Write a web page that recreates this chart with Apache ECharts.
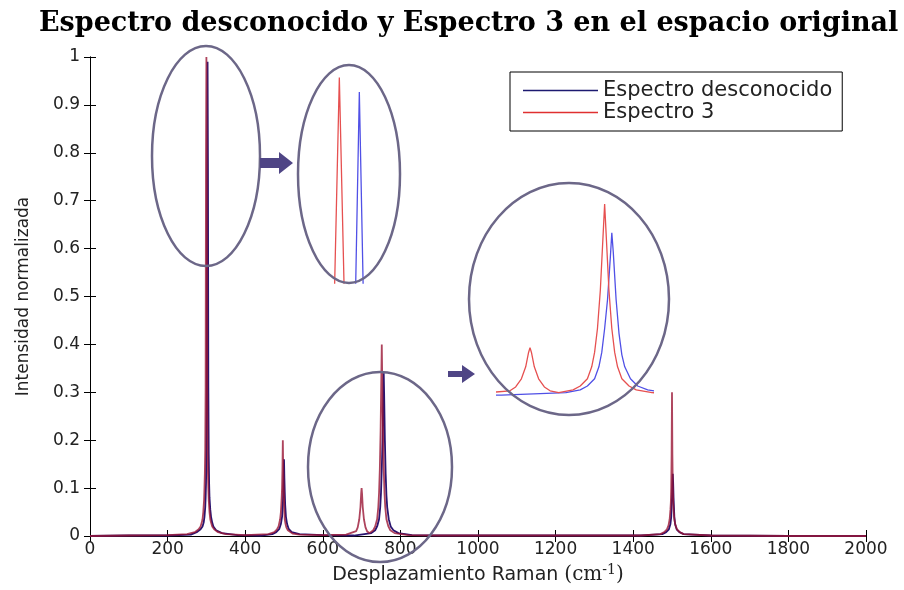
<!DOCTYPE html>
<html>
<head>
<meta charset="utf-8">
<script src="https://cdn.jsdelivr.net/npm/echarts@6/dist/echarts.min.js"></script>
<style>html,body{margin:0;padding:0;background:#fff}#c{width:904px;height:590px}</style>
</head>
<body>
<div id="c"></div>
<script>
// ---- Data ----
const titleText = 'Espectro desconocido y Espectro 3 en el espacio original';
const seriesNames = ['Espectro desconocido', 'Espectro 3'];
const xAxisTitle = 'Desplazamiento Raman';
const yAxisTitle = 'Intensidad normalizada';

// Espectro desconocido (blue)
const blueX = [0,100,200,260,275,285,290,293,295,297,298,299,300,301,302,303,304,305,306,307,308,310,312,315,318,325,340,380,
  440,470,480,488,492,495,497,498,499,500,501,502,503,505,508,512,520,540,600,
  680,725,735,740,745,748,750,752,754,756,757,758,760,762,764,766,770,775,782,795,830,
  900,1100,1300,1420,1475,1485,1492,1496,1498,1499,1500,1501,1502,1503,1504,1505,1506,1508,1512,1519,1530,1600,1800,2000];
const blueY = [0,0.001,0.001,0.003,0.008,0.014,0.02,0.028,0.04,0.06,0.08,0.11,0.16,0.3,0.75,0.99,0.76,0.31,0.17,0.11,0.08,0.055,0.04,0.028,0.02,0.012,0.006,0.002,
  0.001,0.004,0.008,0.015,0.025,0.04,0.065,0.09,0.12,0.16,0.12,0.09,0.065,0.04,0.025,0.015,0.008,0.004,0.002,
  0.001,0.006,0.012,0.02,0.035,0.06,0.09,0.14,0.2,0.29,0.34,0.3,0.2,0.13,0.085,0.06,0.035,0.02,0.012,0.006,0.002,
  0.001,0.001,0.001,0.001,0.004,0.008,0.014,0.025,0.04,0.06,0.08,0.11,0.13,0.11,0.08,0.06,0.04,0.025,0.014,0.008,0.004,0.001,0,0];

// Espectro 3 (red)
const redX = [0,100,200,250,270,280,285,288,290,292,294,295,296,297,298,299,300,301,302,303,304,305,306,308,310,312,315,320,330,350,400,
  460,475,482,486,490,492,494,495,496,497,498,499,500,501,502,504,506,510,514,522,540,600,
  660,686,690,694,697,699,700,701,703,706,710,714,720,730,735,740,743,745,747,749,751,752,753,755,757,759,761,764,769,774,785,820,
  900,1100,1300,1420,1470,1480,1487,1491,1494,1496,1497,1498,1499,1500,1501,1502,1503,1504,1506,1509,1513,1520,1530,1600,1800,2000];
const redY = [0,0.001,0.002,0.004,0.008,0.014,0.02,0.028,0.035,0.05,0.075,0.1,0.13,0.18,0.31,0.8,1.0,0.8,0.31,0.18,0.13,0.1,0.075,0.05,0.035,0.028,0.02,0.014,0.008,0.004,0.002,
  0.004,0.008,0.014,0.02,0.035,0.05,0.08,0.1,0.14,0.2,0.14,0.1,0.08,0.05,0.035,0.025,0.018,0.012,0.008,0.005,0.003,0.002,
  0.003,0.01,0.018,0.035,0.06,0.09,0.1,0.09,0.06,0.035,0.018,0.01,0.006,0.012,0.02,0.035,0.06,0.09,0.14,0.22,0.34,0.4,0.34,0.22,0.14,0.09,0.06,0.035,0.02,0.012,0.006,0.002,
  0.001,0.001,0.001,0.001,0.004,0.008,0.014,0.022,0.035,0.055,0.07,0.1,0.17,0.3,0.17,0.1,0.07,0.055,0.035,0.022,0.014,0.008,0.004,0.001,0,0];

const xTicks = {min: 0, max: 2000, interval: 200};
const yTicks = {min: 0, max: 1, interval: 0.1};
// zoomed views (inset ranges)
const zoom1Range = {xmin: 295.6, xmax: 304.6, ymin: 0.86, ymax: 1.003};
const zoom2Range = {xmin: 677, xmax: 785, ymin: -0.003, ymax: 0.402};

// ---- build ----
const pairs = (xs, ys) => xs.map((x, i) => [x, ys[i]]);
const blueData = pairs(blueX, blueY);
const redData = pairs(redX, redY);

const SANS = 'DejaVu Sans';
const chart = echarts.init(document.getElementById('c'), null, {renderer: 'canvas'});

const tickLabel = {fontFamily: SANS, fontSize: 17, color: '#222'};
const mainAxisCommon = {
  axisLine: {show: true, lineStyle: {color: '#000', width: 1}},
  axisTick: {show: true, inside: true, length: 6, lineStyle: {color: '#000'}},
  splitLine: {show: false}
};
const hiddenAxis = {show: false, splitLine: {show: false}};

chart.setOption({
  animation: false,
  backgroundColor: '#fff',
  title: {
    text: titleText, left: 34, top: 5,
    textStyle: {fontFamily: 'DejaVu Serif', fontWeight: 'bold', fontSize: 27, color: '#000'}
  },
  legend: {
    data: [
      {name: seriesNames[0], itemStyle: {color: '#1c1a70'}},
      {name: seriesNames[1], itemStyle: {color: '#e03030'}}
    ],
    orient: 'vertical', left: 510, top: 72,
    icon: 'rect', itemWidth: 75, itemHeight: 1.5, itemGap: 1,
    padding: [8, 10, 8, 13],
    backgroundColor: '#fff', borderColor: '#000', borderWidth: 1,
    textStyle: {fontFamily: SANS, fontSize: 21, color: '#222'}
  },
  grid: [
    {left: 90, right: 38, top: 57, bottom: 47},
    {left: 310, width: 60, top: 73, height: 210},
    {left: 497, width: 155, top: 203, height: 194}
  ],
  xAxis: [
    Object.assign({type: 'value', gridIndex: 0, position: 'bottom', min: xTicks.min, max: xTicks.max, interval: xTicks.interval,
      axisLabel: Object.assign({margin: 5, formatter: v => String(v)}, tickLabel),
      name: '{a|' + xAxisTitle + ' }{b|(cm}{s|-1}{b|)}', nameLocation: 'middle', nameGap: 27,
      nameTextStyle: {rich: {
        a: {fontFamily: SANS, fontSize: 19, color: '#222'},
        b: {fontFamily: 'DejaVu Serif', fontSize: 20, color: '#222'},
        s: {fontFamily: 'DejaVu Serif', fontSize: 14, color: '#222', padding: [0, 0, 10, 0]}
      }}
    }, mainAxisCommon),
    Object.assign({type: 'value', gridIndex: 0, position: 'top', min: xTicks.min, max: xTicks.max, interval: xTicks.interval,
      axisLabel: {show: false}}, mainAxisCommon),
    Object.assign({type: 'value', gridIndex: 1, min: zoom1Range.xmin, max: zoom1Range.xmax}, hiddenAxis),
    Object.assign({type: 'value', gridIndex: 2, min: zoom2Range.xmin, max: zoom2Range.xmax}, hiddenAxis)
  ],
  yAxis: [
    Object.assign({type: 'value', gridIndex: 0, position: 'left', min: yTicks.min, max: yTicks.max, interval: yTicks.interval,
      axisLabel: Object.assign({margin: 10, formatter: v => String(+v.toFixed(1))}, tickLabel),
      name: yAxisTitle, nameLocation: 'middle', nameGap: 58,
      nameTextStyle: {fontFamily: SANS, fontSize: 17, color: '#222'}
    }, mainAxisCommon),
    Object.assign({type: 'value', gridIndex: 0, position: 'right', min: yTicks.min, max: yTicks.max, interval: yTicks.interval,
      axisLabel: {show: false}}, mainAxisCommon),
    Object.assign({type: 'value', gridIndex: 1, min: zoom1Range.ymin, max: zoom1Range.ymax}, hiddenAxis),
    Object.assign({type: 'value', gridIndex: 2, min: zoom2Range.ymin, max: zoom2Range.ymax}, hiddenAxis)
  ],
  series: [
    {name: seriesNames[0], type: 'line', xAxisIndex: 0, yAxisIndex: 0, data: blueData, showSymbol: false,
      lineStyle: {color: '#2a1570', width: 1.8}, itemStyle: {color: '#1c1a70'}, z: 2},
    {name: seriesNames[1], type: 'line', xAxisIndex: 0, yAxisIndex: 0, data: redData, showSymbol: false,
      lineStyle: {color: '#9a1535', width: 1.8, opacity: 0.8}, itemStyle: {color: '#e03030'}, z: 3},
    {name: 'zoom1-blue', type: 'line', xAxisIndex: 2, yAxisIndex: 2, data: blueData, showSymbol: false,
      lineStyle: {color: '#5050e6', width: 1.3}, z: 2},
    {name: 'zoom1-red', type: 'line', xAxisIndex: 2, yAxisIndex: 2, data: redData, showSymbol: false,
      lineStyle: {color: '#e65050', width: 1.3}, z: 3},
    {name: 'zoom2-blue', type: 'line', xAxisIndex: 3, yAxisIndex: 3, data: blueData, showSymbol: false,
      lineStyle: {color: '#5050e6', width: 1.3}, z: 2},
    {name: 'zoom2-red', type: 'line', xAxisIndex: 3, yAxisIndex: 3, data: redData, showSymbol: false,
      lineStyle: {color: '#e65050', width: 1.3}, z: 3}
  ],
  graphic: [
    {type: 'ellipse', shape: {cx: 206, cy: 156, rx: 54, ry: 110}, style: {fill: null, stroke: '#6c6788', lineWidth: 2.5}, z: 50},
    {type: 'ellipse', shape: {cx: 349, cy: 174, rx: 51, ry: 109}, style: {fill: null, stroke: '#6c6788', lineWidth: 2.5}, z: 50},
    {type: 'ellipse', shape: {cx: 380, cy: 467, rx: 72, ry: 95}, style: {fill: null, stroke: '#6c6788', lineWidth: 2.5}, z: 50},
    {type: 'ellipse', shape: {cx: 569, cy: 299, rx: 100, ry: 116}, style: {fill: null, stroke: '#6c6788', lineWidth: 2.5}, z: 50},
    {type: 'polygon', shape: {points: [[260,158],[279,158],[279,152],[293,163],[279,174],[279,168],[260,168]]}, style: {fill: '#4f4585'}, z: 50},
    {type: 'polygon', shape: {points: [[448,371],[462,371],[462,365],[475,374],[462,383],[462,377],[448,377]]}, style: {fill: '#4f4585'}, z: 50}
  ]
});
</script>
</body>
</html>
